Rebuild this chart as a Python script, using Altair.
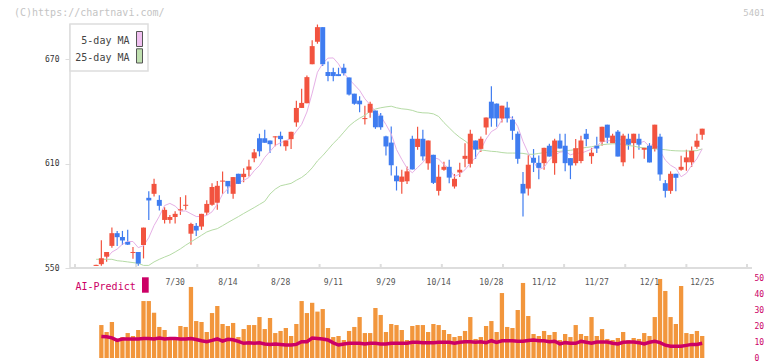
import altair as alt
import pandas as pd

# ---------------- data ----------------
opens = [551.2, 552.2, 556.5, 562.7, 570.0, 567.8, 565.0, 558.6, 559.2, 563.2,
         590.3, 592.6, 589.1, 577.6, 577.6, 579.3, 583.1, 585.7, 569.7, 574.2,
         573.8, 581.8, 586.3, 587.5, 599.6, 600.0, 592.6, 604.1, 602.2, 606.4,
         613.0, 624.5, 624.5, 623.2, 625.0, 625.9, 619.9, 624.0, 633.6, 641.9,
         644.6, 667.0, 679.9, 688.3, 662.5, 662.5, 661.3, 665.0, 659.4, 650.1,
         646.1, 635.5, 639.2, 640.4, 637.5, 625.6, 622.0, 603.1, 599.5, 599.8,
         624.2, 619.5, 624.2, 610.1, 615.0, 594.3, 606.4, 608.1, 596.8, 604.9,
         612.7, 609.8, 623.2, 618.4, 630.7, 645.5, 644.4, 635.9, 642.1, 635.2,
         627.1, 598.3, 595.6, 613.3, 610.4, 610.2, 620.2, 610.2, 623.2, 620.2,
         613.1, 610.2, 611.5, 627.1, 614.2, 620.2, 622.5, 632.3, 621.7, 628.3,
         610.7, 624.2, 621.7, 624.2, 617.9, 620.2, 618.5, 625.4, 598.7, 594.3,
         604.1, 606.4, 610.7, 610.7, 619.6, 626.5]
highs = [551.8, 566.0, 559.2, 573.2, 571.3, 571.3, 571.9, 562.0, 559.2, 573.2,
         594.0, 601.2, 591.8, 584.9, 580.5, 582.6, 590.7, 591.8, 576.0, 575.9,
         581.1, 588.9, 598.6, 599.9, 605.4, 600.0, 602.2, 604.1, 607.3, 612.1,
         618.4, 627.1, 629.4, 623.2, 625.6, 628.3, 623.2, 628.2, 646.1, 652.9,
         660.5, 680.7, 689.8, 688.3, 668.5, 665.0, 665.0, 667.3, 659.4, 650.1,
         648.6, 643.2, 645.5, 640.4, 639.0, 626.0, 631.3, 608.4, 606.4, 608.3,
         626.0, 631.1, 629.4, 623.2, 615.0, 609.3, 611.0, 612.1, 604.0, 610.4,
         621.7, 629.4, 623.2, 625.5, 636.4, 654.3, 644.4, 643.2, 645.5, 637.1,
         628.4, 605.1, 614.8, 618.3, 614.6, 619.0, 621.3, 624.2, 627.1, 627.1,
         613.1, 624.0, 626.0, 629.8, 619.0, 625.4, 631.1, 632.3, 627.1, 629.2,
         627.1, 627.1, 627.1, 627.1, 619.0, 621.7, 632.3, 627.1, 600.6, 605.5,
         604.1, 614.4, 617.9, 619.8, 627.1, 630.0]
lows = [551.2, 551.3, 553.6, 561.7, 562.7, 563.2, 563.2, 555.3, 551.3, 555.5,
        577.6, 591.0, 583.0, 575.5, 575.5, 575.5, 580.5, 583.4, 563.4, 568.4,
        571.9, 580.5, 585.7, 583.4, 592.6, 592.6, 589.8, 598.3, 599.3, 602.5,
        610.7, 614.1, 621.9, 616.1, 619.9, 619.9, 617.3, 618.4, 631.1, 641.9,
        644.6, 667.0, 678.8, 666.0, 657.2, 657.2, 660.2, 660.6, 649.0, 643.8,
        639.4, 632.4, 636.3, 629.9, 629.4, 614.6, 603.1, 594.5, 592.6, 598.3,
        606.6, 617.9, 611.7, 606.4, 598.3, 591.7, 605.8, 598.7, 595.6, 602.2,
        607.9, 607.7, 612.7, 616.6, 626.5, 631.1, 631.1, 633.6, 633.6, 623.6,
        609.8, 579.6, 591.7, 605.1, 601.0, 606.4, 614.0, 603.5, 618.6, 605.5,
        601.0, 608.9, 610.2, 619.9, 609.8, 616.0, 620.2, 621.7, 621.7, 614.0,
        608.4, 617.9, 612.9, 617.9, 612.7, 610.6, 616.9, 600.1, 590.5, 592.6,
        594.0, 605.8, 605.8, 608.0, 618.5, 623.6]
closes = [551.8, 555.6, 559.2, 570.0, 567.7, 565.8, 563.4, 559.2, 552.5, 573.2,
          588.8, 598.3, 585.7, 583.4, 579.3, 581.1, 583.7, 586.3, 575.3, 571.5,
          581.1, 586.8, 596.5, 597.2, 600.2, 596.9, 602.2, 598.3, 604.1, 608.3,
          616.4, 617.0, 621.9, 621.1, 625.6, 624.0, 623.2, 628.2, 641.9, 644.8,
          659.6, 677.4, 688.3, 667.0, 660.2, 660.2, 660.2, 661.8, 649.6, 644.3,
          644.0, 636.1, 644.3, 630.8, 630.8, 619.8, 609.0, 599.8, 602.5, 605.5,
          606.6, 624.2, 614.1, 623.2, 598.9, 602.4, 608.1, 601.9, 601.2, 606.4,
          614.4, 627.1, 618.0, 624.2, 636.4, 635.9, 635.9, 643.2, 635.9, 628.8,
          612.7, 592.8, 609.3, 610.4, 607.5, 619.0, 614.0, 623.2, 618.6, 610.2,
          608.9, 618.8, 623.2, 624.0, 616.2, 618.6, 631.1, 624.8, 626.0, 614.0,
          626.0, 620.8, 627.1, 620.8, 619.0, 610.6, 632.3, 603.7, 594.3, 604.1,
          601.8, 608.1, 613.5, 617.3, 623.1, 630.0]
ma25 = [555.0, 555.0, 555.0, 555.0, 554.2, 553.9, 553.5, 553.1, 552.7, 551.5,
        551.5, 553.5, 555.0, 556.3, 557.5, 559.2, 561.0, 563.1, 565.0, 566.9,
        568.8, 570.7, 571.8, 572.6, 574.3, 576.1, 577.8, 579.5, 581.3, 583.0,
        584.7, 586.5, 588.3, 592.5, 595.3, 597.2, 597.9, 598.6, 600.4, 602.0,
        604.3, 607.5, 611.5, 614.5, 618.0, 621.5, 624.5, 628.0, 631.5, 634.0,
        636.0, 637.7, 640.0, 641.3, 642.0, 642.5, 642.9, 642.0, 641.4, 641.1,
        640.5, 639.5, 639.1, 639.0, 638.5, 637.0, 633.5, 630.5, 627.5, 625.0,
        623.0, 620.5, 618.5, 617.8, 617.4, 617.0, 616.8, 616.3, 616.0, 616.0,
        616.0, 615.8, 615.3, 615.3, 615.8, 616.2, 616.6, 616.8, 617.0, 617.3,
        617.6, 618.0, 618.8, 619.2, 619.6, 620.2, 620.8, 621.1, 621.3, 621.3,
        621.0, 620.3, 620.0, 619.3, 619.0, 618.7, 618.4, 618.2, 617.9, 617.5,
        617.3, 617.2, 617.2, 617.2, 617.4, 618.4]
volumes = [None, 20.6, 16.25, 22.5, 10.8, 13.1, 15.6, 13.75, 17.5, 35.6,
           35.6, 28.3, 19.4, 17.5, 13.1, 11.9, 20.0, 19.4, 44.4, 23.1,
           22.5, 16.25, 28.1, 32.5, 21.25, 20.0, 21.9, 13.1, 18.1, 20.6,
           20.6, 25.6, 18.1, 25.0, 15.6, 16.9, 18.75, 13.75, 21.25, 35.6,
           28.1, 34.5, 29.0, 30.6, 18.75, 13.1, 13.75, 11.25, 16.9, 19.4,
           25.6, 15.6, 15.6, 31.25, 26.9, 16.25, 21.25, 20.6, 17.5, 11.25,
           20.0, 20.6, 20.6, 16.25, 21.25, 20.6, 17.5, 15.0, 13.1, 13.75,
           16.9, 25.6, 11.9, 13.1, 20.0, 23.1, 16.25, 40.6, 19.4, 18.75,
           30.0, 46.9, 26.25, 15.0, 13.75, 16.9, 14.4, 16.25, 11.25, 15.0,
           13.1, 20.6, 15.0, 13.75, 25.6, 13.75, 18.1, 11.9, 11.25, 12.5,
           16.25, 11.25, 12.5, 11.9, 15.6, 13.75, 25.6, 49.4, 41.9, 25.6,
           21.25, 45.0, 15.6, 15.0, 16.9, 13.75]
ai_predict = [None, 13.5, 13.3, 12.6, 11.0, 11.9, 11.9, 11.9, 11.9, 12.2,
              12.2, 11.9, 12.5, 11.9, 12.2, 12.2, 11.9, 11.9, 12.2, 11.6,
              10.8, 10.2, 11.0, 11.9, 10.6, 11.7, 11.4, 10.4, 9.2, 9.5,
              9.2, 9.5, 8.8, 8.5, 8.8, 8.5, 8.1, 8.1, 8.5, 10.2,
              10.2, 12.5, 12.2, 11.9, 11.25, 9.5, 8.1, 8.8, 9.2, 9.2,
              9.2, 8.8, 9.2, 9.2, 8.8, 8.8, 9.2, 9.2, 9.2, 9.2,
              9.8, 9.8, 9.5, 9.5, 9.5, 9.8, 9.8, 9.8, 9.2, 9.8,
              10.2, 10.2, 9.8, 10.2, 9.5, 10.8, 9.8, 10.8, 10.8, 10.8,
              10.5, 10.5, 11.0, 11.25, 10.8, 10.8, 10.2, 10.5, 8.8, 9.6,
              9.2, 9.2, 10.4, 9.8, 9.2, 10.0, 10.0, 10.0, 9.2, 8.8,
              9.8, 10.0, 10.0, 9.6, 8.8, 9.8, 10.4, 9.6, 8.0, 7.3,
              7.3, 7.3, 7.9, 8.5, 8.5, 9.2]

date_labels = ["7/30", "8/14", "8/28", "9/11", "9/29", "10/14", "10/28",
               "11/12", "11/27", "12/1", "12/25"]
date_pos = [15, 25, 35, 45, 55, 65, 75, 85, 95, 105, 115]
tick_pos = [-4, 7.6, 19.2, 30.8, 42.4, 54.0, 65.6, 77.2, 88.8, 100.4, 112.0, 123.5]
price_ticks = [550, 610, 670]
vol_ticks = [0, 10, 20, 30, 40, 50]
legend_ma5 = "5-day MA"
legend_ma25 = "25-day MA"
header_left = "(C)https://chartnavi.com/"
header_right = "5401"
ai_label = "AI-Predict"

# ---------------- styling ----------------
MONO = "DejaVu Sans Mono"
RED = "#f2533f"
BLUE = "#3f7cf0"
MA5_C = "#e6b0e6"
MA25_C = "#b5dba5"
VOL_C = "#f2963c"
AI_C = "#cc0066"
GRID_C = "#dddddd"

W, H = 682, 334
X_DOM = [-4, 123.5]
P_DOM = [498.33, 690.1]
V_DOM = [0, 208.75]

df = pd.DataFrame({
    "i": list(range(len(opens))),
    "open": opens, "high": highs, "low": lows, "close": closes,
    "ma25": ma25, "vol": volumes, "ai": ai_predict,
})
df["dir"] = ["up" if c >= o else "down" for o, c in zip(opens, closes)]


def xq(field="i:Q"):
    return alt.X(field, scale=alt.Scale(domain=X_DOM, nice=False, zero=False), axis=None)


pscale = alt.Scale(domain=P_DOM, nice=False, zero=False)
vscale = alt.Scale(domain=V_DOM, nice=False)
cenc = alt.Color("dir:N", scale=alt.Scale(domain=["up", "down"], range=[RED, BLUE]), legend=None)

base = alt.Chart(df)

left_axis = alt.Axis(values=price_ticks, orient="left", domain=False, grid=False,
                     tickSize=5, tickColor=GRID_C, tickWidth=1,
                     labelFont=MONO, labelFontSize=8, labelColor="#333333",
                     labelPadding=6, title=None)
right_axis = alt.Axis(values=vol_ticks, orient="right", domain=False, grid=False,
                      ticks=False, tickSize=0, labelFont=MONO, labelFontSize=8,
                      labelColor=AI_C, labelPadding=2, title=None)

vol_bars = base.mark_bar(size=4.3, color=VOL_C).encode(
    x=xq(), y=alt.Y("vol:Q", scale=vscale, axis=right_axis))
ai_line = base.mark_line(color=AI_C, strokeWidth=3.5).encode(
    x=xq(), y=alt.Y("ai:Q", scale=vscale, axis=None))

ma25_line = base.mark_line(color=MA25_C, strokeWidth=1).encode(
    x=xq(), y=alt.Y("ma25:Q", scale=pscale, axis=None))
ma5_line = base.transform_window(
    ma5="mean(close)", frame=[-4, 0], sort=[alt.SortField("i")]
).transform_filter("datum.i >= 2").mark_line(color=MA5_C, strokeWidth=1).encode(
    x=xq(), y=alt.Y("ma5:Q", scale=pscale, axis=None))

wicks = base.mark_rule(strokeWidth=1.2).encode(
    x=xq(), y=alt.Y("low:Q", scale=pscale, axis=left_axis), y2="high:Q", color=cenc)
bodies = base.mark_bar(size=5).encode(
    x=xq(), y=alt.Y("open:Q", scale=pscale, axis=None), y2="close:Q", color=cenc)

one = alt.Chart(pd.DataFrame({"a": [0]}))

# axis lines and ticks
xline = one.mark_rule(color=GRID_C, strokeWidth=2).encode(
    x=alt.value(0), x2=alt.value(W), y=alt.value(244))
yline = one.mark_rule(color=GRID_C, strokeWidth=1.5).encode(
    x=alt.value(0), y=alt.value(0), y2=alt.value(244))
ticks = alt.Chart(pd.DataFrame({"pos": tick_pos})).mark_rule(
    color=GRID_C, strokeWidth=2).encode(
    x=xq("pos:Q"), y=alt.value(240), y2=alt.value(244))

dates = alt.Chart(pd.DataFrame({"i": date_pos, "lab": date_labels})).mark_text(
    font=MONO, fontSize=8, color="#555555", align="center", baseline="middle").encode(
    x=xq(), y=alt.value(258.5), text="lab:N")


def label(txt, x, y, size, color, align, baseline="middle"):
    return alt.Chart(pd.DataFrame({"t": [txt]})).mark_text(
        font=MONO, fontSize=size, color=color, align=align, baseline=baseline).encode(
        x=alt.value(x), y=alt.value(y), text="t:N")


# headers
hdr_l = label(header_left, -56, -7.6, 10, "#c4c4c4", "left", "alphabetic")
hdr_r = label(header_right, 695, -8.2, 9, "#c4c4c4", "right", "alphabetic")

# MA legend box
lbox = one.mark_rect(fill="white", stroke=GRID_C, strokeWidth=1.5).encode(
    x=alt.value(0), x2=alt.value(78), y=alt.value(0), y2=alt.value(47))
lt1 = label(legend_ma5, 59.5, 16.7, 10, "#444444", "right")
lt2 = label(legend_ma25, 59.5, 33.5, 10, "#444444", "right")
sw1 = one.mark_rect(fill="#f0c0f0", stroke="#555555", strokeWidth=1).encode(
    x=alt.value(66.5), x2=alt.value(72.5), y=alt.value(7.5), y2=alt.value(22.5))
sw2 = one.mark_rect(fill="#c0e0b0", stroke="#555555", strokeWidth=1).encode(
    x=alt.value(66.5), x2=alt.value(72.5), y=alt.value(24.8), y2=alt.value(39))

# AI-Predict legend
ai_txt = label(ai_label, 5.5, 262.5, 10, AI_C, "left")
ai_sw = one.mark_rect(fill=AI_C).encode(
    x=alt.value(72), x2=alt.value(78.7), y=alt.value(253.3), y2=alt.value(268.7))

chart = alt.layer(
    wicks, vol_bars, ma25_line, ma5_line, bodies, ai_line,
    xline, yline, ticks, dates, hdr_l, hdr_r, lbox, lt1, lt2, sw1, sw2, ai_txt, ai_sw,
).resolve_scale(y="independent").properties(
    width=W, height=H,
    autosize=alt.AutoSizeParams(type="none"),
    padding={"left": 62, "top": 16, "right": 12, "bottom": 3},
).configure_view(strokeWidth=0)

chart.save("out.html", embed_options={"renderer": "svg", "actions": False})
